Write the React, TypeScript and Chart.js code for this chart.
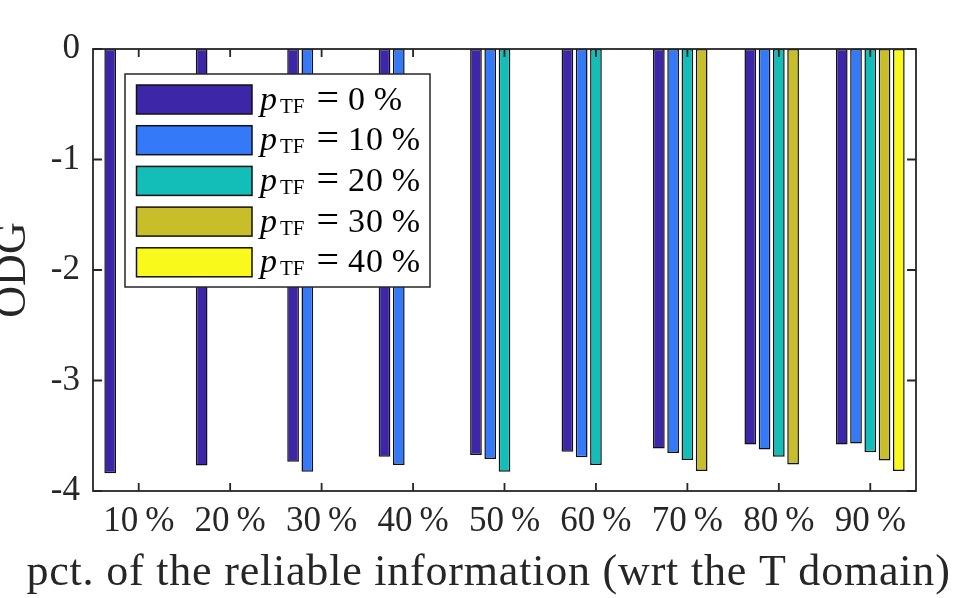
import React, { useEffect, useRef } from 'react';
import { Chart, registerables } from 'chart.js';

Chart.register(...registerables);

const FONT = '"Liberation Serif", "Times New Roman", serif';
const AXIS_COLOR = '#262626';

const categories = ['10\u2009%', '20\u2009%', '30\u2009%', '40\u2009%', '50\u2009%', '60\u2009%', '70\u2009%', '80\u2009%', '90\u2009%'];
const seriesNames = ['0\u2009%', '10\u2009%', '20\u2009%', '30\u2009%', '40\u2009%'];
const seriesColors = ['#3E26A8', '#3479F8', '#13BDB8', '#C7BE2A', '#F9F91B'];

const odgTF0 = [-3.84, -3.77, -3.735, -3.69, -3.675, -3.645, -3.615, -3.58, -3.58];
const odgTF10 = [null, null, -3.825, -3.765, -3.71, -3.695, -3.655, -3.625, -3.57];
const odgTF20 = [null, null, null, null, -3.825, -3.765, -3.72, -3.69, -3.65];
const odgTF30 = [null, null, null, null, null, null, -3.82, -3.76, -3.725];
const odgTF40 = [null, null, null, null, null, null, null, null, -3.82];

const yMin = -4;
const yMax = 0;
const yStep = 1;

const xTitle = 'pct. of the reliable information (wrt the T domain)';
const yTitle = 'ODG';

const seriesValues = [odgTF0, odgTF10, odgTF20, odgTF30, odgTF40];

const framePlugin = {
  id: 'matlabFrame',
  afterDatasetsDraw(chart: any) {
    const { ctx, chartArea: ca } = chart;
    const xs = chart.scales.x;
    const ys = chart.scales.y;
    ctx.save();
    ctx.strokeStyle = AXIS_COLOR;
    ctx.lineWidth = 1.8;
    ctx.beginPath();
    for (let i = 0; i < categories.length; i++) {
      const px = xs.getPixelForTick(i);
      ctx.moveTo(px, ca.bottom);
      ctx.lineTo(px, ca.bottom - 8);
      ctx.moveTo(px, ca.top);
      ctx.lineTo(px, ca.top + 8);
    }
    for (let v = yMin; v <= yMax; v += yStep) {
      const py = ys.getPixelForValue(v);
      ctx.moveTo(ca.left, py);
      ctx.lineTo(ca.left + 9, py);
      ctx.moveTo(ca.right, py);
      ctx.lineTo(ca.right - 9, py);
    }
    ctx.stroke();
    ctx.strokeRect(ca.left, ca.top, ca.right - ca.left, ca.bottom - ca.top);
    ctx.restore();
  },
};

const xTitlePlugin = {
  id: 'xTitle',
  afterDraw(chart: any) {
    const { ctx, chartArea: ca } = chart;
    ctx.save();
    ctx.font = `44px ${FONT}`;
    (ctx as any).letterSpacing = '0.8px';
    ctx.fillStyle = AXIS_COLOR;
    ctx.textAlign = 'center';
    ctx.textBaseline = 'alphabetic';
    ctx.fillText(xTitle, (ca.left + ca.right) / 2 - 16, ca.bottom + 94);
    ctx.restore();
  },
};

const legendPlugin = {
  id: 'texLegend',
  afterDraw(chart: any) {
    const { ctx, chartArea: ca } = chart;
    const bx = ca.left + 32;
    const by = ca.top + 25;
    const bw = 305;
    const bh = 213;
    ctx.save();
    ctx.fillStyle = '#ffffff';
    ctx.fillRect(bx, by, bw, bh);
    ctx.strokeStyle = AXIS_COLOR;
    ctx.lineWidth = 1.5;
    ctx.strokeRect(bx, by, bw, bh);
    chart.data.datasets.forEach((ds: any, i: number) => {
      const sy = by + 11 + i * 40.7;
      ctx.fillStyle = ds.backgroundColor;
      ctx.fillRect(bx + 11.5, sy, 115.5, 29);
      ctx.strokeStyle = '#111';
      ctx.lineWidth = 1.5;
      ctx.strokeRect(bx + 11.5, sy, 115.5, 29);
      const base = sy + 24.5;
      ctx.fillStyle = '#000';
      ctx.textBaseline = 'alphabetic';
      ctx.textAlign = 'left';
      let x = bx + 135;
      ctx.font = `italic 34px ${FONT}`;
      ctx.fillText('p', x, base);
      x += ctx.measureText('p').width + 3;
      ctx.font = `21px ${FONT}`;
      ctx.fillText('TF', x, base + 3);
      x += ctx.measureText('TF').width + 12;
      ctx.font = `40px ${FONT}`;
      ctx.fillText('=', x, base + 1);
      x += ctx.measureText('=').width + 9;
      ctx.font = `34px ${FONT}`;
      (ctx as any).letterSpacing = '1px';
      ctx.fillText(seriesNames[i], x, base);
      (ctx as any).letterSpacing = '0px';
    });
    ctx.restore();
  },
};

export default function App() {
  const canvasRef = useRef<HTMLCanvasElement | null>(null);

  useEffect(() => {
    document.body.style.margin = '0';
    const canvas = canvasRef.current;
    if (!canvas) return;
    const chart = new Chart(canvas, {
      type: 'bar',
      data: {
        labels: categories,
        datasets: seriesValues.map((vals, i) => ({
          label: `p_TF = ${seriesNames[i]}`,
          data: vals,
          backgroundColor: seriesColors[i],
          borderColor: '#111111',
          borderWidth: 1.5,
          borderSkipped: false,
          categoryPercentage: 0.78,
          barPercentage: 0.82,
        })),
      },
      options: {
        animation: false,
        responsive: false,
        devicePixelRatio: 1,
        layout: { padding: { top: 49, right: 38, left: 0, bottom: 0 } },
        plugins: {
          legend: { display: false },
          tooltip: { enabled: false },
        },
        scales: {
          x: {
            grid: { display: false, drawTicks: false },
            border: { display: false },
            ticks: {
              autoSkip: false,
              maxRotation: 0,
              padding: 10,
              color: AXIS_COLOR,
              font: { family: FONT, size: 35 },
            },
            title: { display: false, text: xTitle },
            afterFit: (s: any) => {
              s.height = 107;
            },
          },
          y: {
            min: yMin,
            max: yMax,
            grid: { display: false, drawTicks: false },
            border: { display: false },
            ticks: {
              stepSize: yStep,
              padding: 13,
              color: AXIS_COLOR,
              font: { family: FONT, size: 35 },
            },
            title: {
              display: true,
              text: yTitle,
              color: AXIS_COLOR,
              font: { family: FONT, size: 44, lineHeight: 0.6 },
              padding: { top: 0.5, bottom: 0 },
            },
            afterFit: (s: any) => {
              s.width = 93;
            },
          },
        },
      },
      plugins: [framePlugin, xTitlePlugin, legendPlugin],
    });
    return () => chart.destroy();
  }, []);

  return (
    <div style={{ width: 954, height: 598, background: '#fff' }}>
      <canvas ref={canvasRef} width={954} height={598} />
    </div>
  );
}
